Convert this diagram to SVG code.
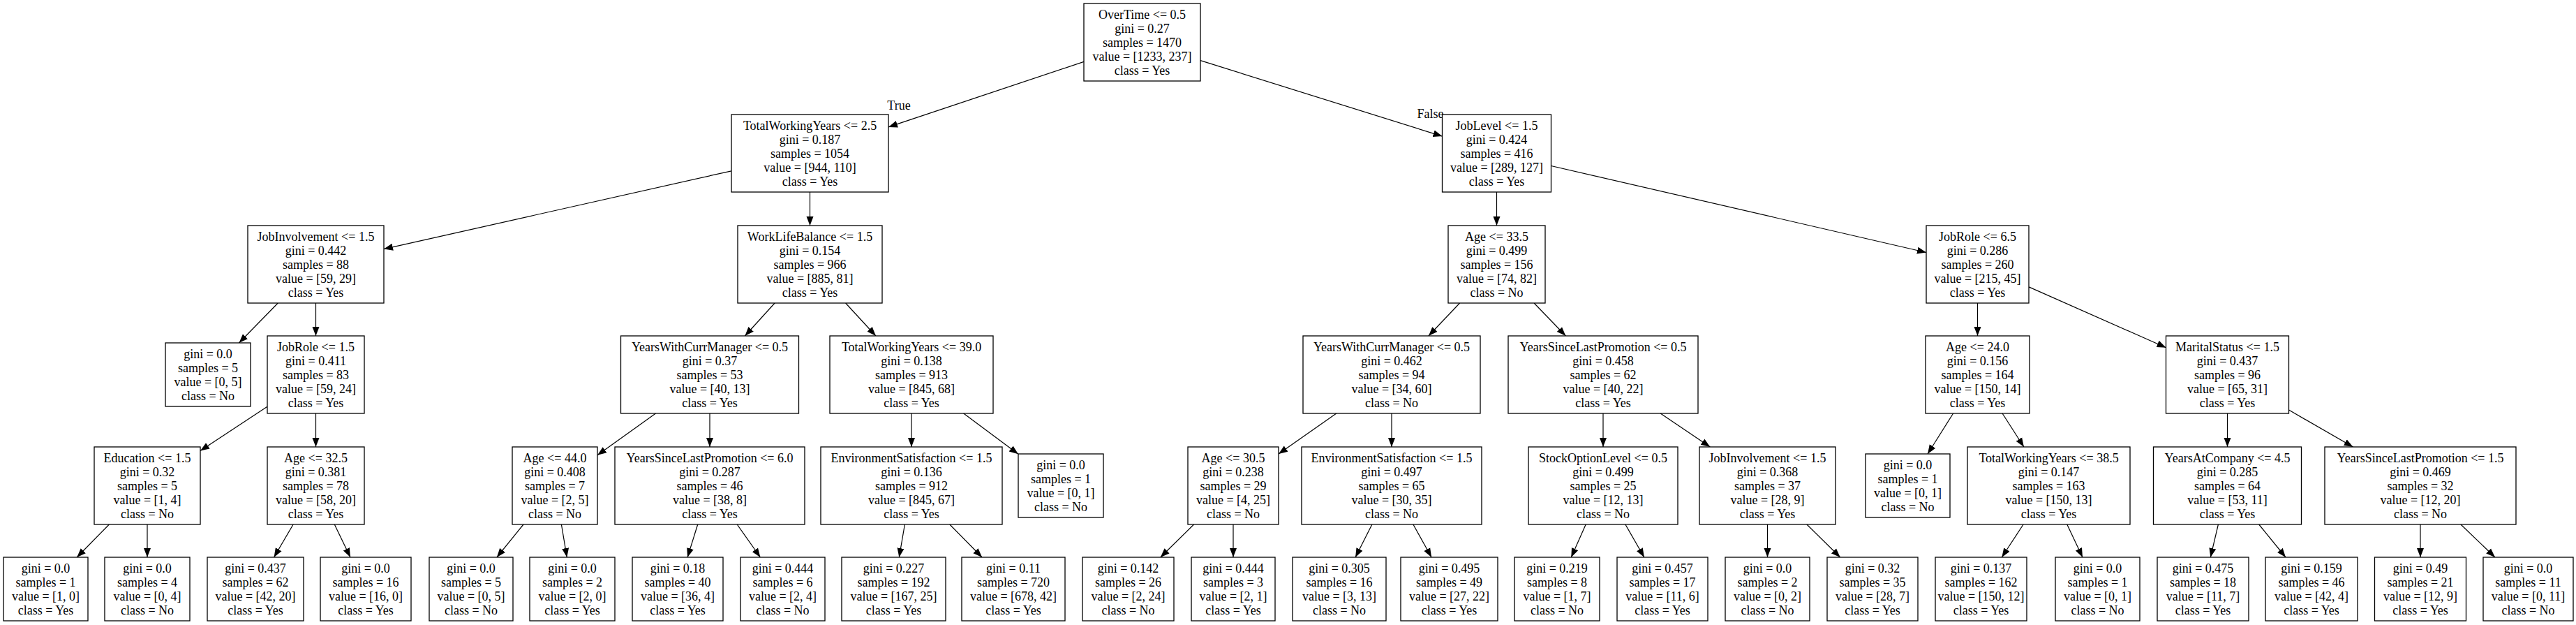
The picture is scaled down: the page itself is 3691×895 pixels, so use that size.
<svg xmlns="http://www.w3.org/2000/svg" width="3691" height="895" viewBox="0 0 3691 895">
<defs>
<marker id="ah" markerUnits="userSpaceOnUse" markerWidth="14" markerHeight="12" refX="13" refY="6" orient="auto">
<path d="M0,1 L13,6 L0,11 z" fill="#000"/>
</marker>
<style>
rect{fill:#fff;stroke:#000;stroke-width:1.3}
text{font-family:"Liberation Serif","Times New Roman",serif;font-size:18px;text-anchor:middle;fill:#000}
#edges line{stroke:#000;stroke-width:1.2;marker-end:url(#ah)}
</style>
</defs>
<rect x="0" y="0" width="3691" height="895" style="fill:#fff;stroke:none"/>
<g id="edges">
<line x1="1553" y1="88.4" x2="1273" y2="181.9"/>
<line x1="1720" y1="86.6" x2="2066.5" y2="195.1"/>
<line x1="1048" y1="244.8" x2="550" y2="356.6"/>
<line x1="1160.5" y1="275" x2="1160.5" y2="323"/>
<line x1="398.2" y1="434" x2="342.5" y2="491"/>
<line x1="452.5" y1="434" x2="452.5" y2="481"/>
<line x1="383" y1="582.3" x2="287" y2="645.5"/>
<line x1="452.5" y1="592" x2="452.5" y2="640"/>
<line x1="156.4" y1="751" x2="110.2" y2="798"/>
<line x1="211" y1="751" x2="211" y2="798"/>
<line x1="420.1" y1="751" x2="392.6" y2="798"/>
<line x1="479.3" y1="751" x2="502" y2="798"/>
<line x1="1110.1" y1="434" x2="1067.4" y2="481"/>
<line x1="1211.6" y1="434" x2="1254.9" y2="481"/>
<line x1="939.5" y1="592" x2="856" y2="651.8"/>
<line x1="1017" y1="592" x2="1017" y2="640"/>
<line x1="750" y1="751" x2="711.9" y2="798"/>
<line x1="804.4" y1="751" x2="812.3" y2="798"/>
<line x1="999.7" y1="751" x2="985.1" y2="798"/>
<line x1="1056.2" y1="751" x2="1089.4" y2="798"/>
<line x1="1306" y1="592" x2="1306" y2="640"/>
<line x1="1380.7" y1="592" x2="1459" y2="650.2"/>
<line x1="1296.4" y1="751" x2="1288.3" y2="798"/>
<line x1="1360.8" y1="751" x2="1407.1" y2="798"/>
<line x1="2144.5" y1="275" x2="2144.5" y2="323"/>
<line x1="2222.5" y1="237.5" x2="2760" y2="361.5"/>
<line x1="2091.6" y1="434" x2="2046.9" y2="481"/>
<line x1="2198.1" y1="434" x2="2243.4" y2="481"/>
<line x1="1914.8" y1="592" x2="1832" y2="650"/>
<line x1="1994" y1="592" x2="1994" y2="640"/>
<line x1="1710.6" y1="751" x2="1662.8" y2="798"/>
<line x1="1767" y1="751" x2="1767" y2="798"/>
<line x1="1965.9" y1="751" x2="1942.1" y2="798"/>
<line x1="2024.9" y1="751" x2="2051.1" y2="798"/>
<line x1="2297" y1="592" x2="2297" y2="640"/>
<line x1="2379.2" y1="592" x2="2450.3" y2="640"/>
<line x1="2272.2" y1="751" x2="2251.3" y2="798"/>
<line x1="2328.9" y1="751" x2="2355.9" y2="798"/>
<line x1="2532.5" y1="751" x2="2532.5" y2="798"/>
<line x1="2588.9" y1="751" x2="2636.7" y2="798"/>
<line x1="2833.5" y1="434" x2="2833.5" y2="481"/>
<line x1="2907" y1="410.9" x2="3103.5" y2="497.7"/>
<line x1="2798.6" y1="592" x2="2762.1" y2="650"/>
<line x1="2869.1" y1="592" x2="2899.9" y2="640"/>
<line x1="2899.1" y1="751" x2="2868.3" y2="798"/>
<line x1="2961.8" y1="751" x2="2984" y2="798"/>
<line x1="3191.5" y1="592" x2="3191.5" y2="640"/>
<line x1="3279.5" y1="587.1" x2="3371.5" y2="640"/>
<line x1="3178.4" y1="751" x2="3167.3" y2="798"/>
<line x1="3236.7" y1="751" x2="3275" y2="798"/>
<line x1="3468" y1="751" x2="3468" y2="798"/>
<line x1="3525.9" y1="751" x2="3575" y2="798"/>
<text x="1288" y="156.5">True</text>
<text x="2049.5" y="169">False</text>
</g>
<g id="n0"><rect x="1553" y="5" width="167" height="111"/><text y="26.5"><tspan x="1636.5">OverTime &lt;= 0.5</tspan><tspan x="1636.5" dy="20">gini = 0.27</tspan><tspan x="1636.5" dy="20">samples = 1470</tspan><tspan x="1636.5" dy="20">value = [1233, 237]</tspan><tspan x="1636.5" dy="20">class = Yes</tspan></text></g>
<g id="n1"><rect x="1048" y="164" width="225" height="111"/><text y="185.5"><tspan x="1160.5">TotalWorkingYears &lt;= 2.5</tspan><tspan x="1160.5" dy="20">gini = 0.187</tspan><tspan x="1160.5" dy="20">samples = 1054</tspan><tspan x="1160.5" dy="20">value = [944, 110]</tspan><tspan x="1160.5" dy="20">class = Yes</tspan></text></g>
<g id="n2"><rect x="355" y="323" width="195" height="111"/><text y="344.5"><tspan x="452.5">JobInvolvement &lt;= 1.5</tspan><tspan x="452.5" dy="20">gini = 0.442</tspan><tspan x="452.5" dy="20">samples = 88</tspan><tspan x="452.5" dy="20">value = [59, 29]</tspan><tspan x="452.5" dy="20">class = Yes</tspan></text></g>
<g id="n3"><rect x="237" y="491" width="122" height="91"/><text y="512.5"><tspan x="298">gini = 0.0</tspan><tspan x="298" dy="20">samples = 5</tspan><tspan x="298" dy="20">value = [0, 5]</tspan><tspan x="298" dy="20">class = No</tspan></text></g>
<g id="n4"><rect x="383" y="481" width="139" height="111"/><text y="502.5"><tspan x="452.5">JobRole &lt;= 1.5</tspan><tspan x="452.5" dy="20">gini = 0.411</tspan><tspan x="452.5" dy="20">samples = 83</tspan><tspan x="452.5" dy="20">value = [59, 24]</tspan><tspan x="452.5" dy="20">class = Yes</tspan></text></g>
<g id="n5"><rect x="135" y="640" width="152" height="111"/><text y="661.5"><tspan x="211">Education &lt;= 1.5</tspan><tspan x="211" dy="20">gini = 0.32</tspan><tspan x="211" dy="20">samples = 5</tspan><tspan x="211" dy="20">value = [1, 4]</tspan><tspan x="211" dy="20">class = No</tspan></text></g>
<g id="n6"><rect x="5" y="798" width="121" height="91"/><text y="819.5"><tspan x="65.5">gini = 0.0</tspan><tspan x="65.5" dy="20">samples = 1</tspan><tspan x="65.5" dy="20">value = [1, 0]</tspan><tspan x="65.5" dy="20">class = Yes</tspan></text></g>
<g id="n7"><rect x="150" y="798" width="122" height="91"/><text y="819.5"><tspan x="211">gini = 0.0</tspan><tspan x="211" dy="20">samples = 4</tspan><tspan x="211" dy="20">value = [0, 4]</tspan><tspan x="211" dy="20">class = No</tspan></text></g>
<g id="n8"><rect x="383" y="640" width="139" height="111"/><text y="661.5"><tspan x="452.5">Age &lt;= 32.5</tspan><tspan x="452.5" dy="20">gini = 0.381</tspan><tspan x="452.5" dy="20">samples = 78</tspan><tspan x="452.5" dy="20">value = [58, 20]</tspan><tspan x="452.5" dy="20">class = Yes</tspan></text></g>
<g id="n9"><rect x="297" y="798" width="138" height="91"/><text y="819.5"><tspan x="366">gini = 0.437</tspan><tspan x="366" dy="20">samples = 62</tspan><tspan x="366" dy="20">value = [42, 20]</tspan><tspan x="366" dy="20">class = Yes</tspan></text></g>
<g id="n10"><rect x="459" y="798" width="130" height="91"/><text y="819.5"><tspan x="524">gini = 0.0</tspan><tspan x="524" dy="20">samples = 16</tspan><tspan x="524" dy="20">value = [16, 0]</tspan><tspan x="524" dy="20">class = Yes</tspan></text></g>
<g id="n11"><rect x="1057" y="323" width="207" height="111"/><text y="344.5"><tspan x="1160.5">WorkLifeBalance &lt;= 1.5</tspan><tspan x="1160.5" dy="20">gini = 0.154</tspan><tspan x="1160.5" dy="20">samples = 966</tspan><tspan x="1160.5" dy="20">value = [885, 81]</tspan><tspan x="1160.5" dy="20">class = Yes</tspan></text></g>
<g id="n12"><rect x="889.5" y="481" width="255" height="111"/><text y="502.5"><tspan x="1017">YearsWithCurrManager &lt;= 0.5</tspan><tspan x="1017" dy="20">gini = 0.37</tspan><tspan x="1017" dy="20">samples = 53</tspan><tspan x="1017" dy="20">value = [40, 13]</tspan><tspan x="1017" dy="20">class = Yes</tspan></text></g>
<g id="n13"><rect x="734" y="640" width="122" height="111"/><text y="661.5"><tspan x="795">Age &lt;= 44.0</tspan><tspan x="795" dy="20">gini = 0.408</tspan><tspan x="795" dy="20">samples = 7</tspan><tspan x="795" dy="20">value = [2, 5]</tspan><tspan x="795" dy="20">class = No</tspan></text></g>
<g id="n14"><rect x="615" y="798" width="120" height="91"/><text y="819.5"><tspan x="675">gini = 0.0</tspan><tspan x="675" dy="20">samples = 5</tspan><tspan x="675" dy="20">value = [0, 5]</tspan><tspan x="675" dy="20">class = No</tspan></text></g>
<g id="n15"><rect x="759" y="798" width="122" height="91"/><text y="819.5"><tspan x="820">gini = 0.0</tspan><tspan x="820" dy="20">samples = 2</tspan><tspan x="820" dy="20">value = [2, 0]</tspan><tspan x="820" dy="20">class = Yes</tspan></text></g>
<g id="n16"><rect x="881" y="640" width="272" height="111"/><text y="661.5"><tspan x="1017">YearsSinceLastPromotion &lt;= 6.0</tspan><tspan x="1017" dy="20">gini = 0.287</tspan><tspan x="1017" dy="20">samples = 46</tspan><tspan x="1017" dy="20">value = [38, 8]</tspan><tspan x="1017" dy="20">class = Yes</tspan></text></g>
<g id="n17"><rect x="906" y="798" width="130" height="91"/><text y="819.5"><tspan x="971">gini = 0.18</tspan><tspan x="971" dy="20">samples = 40</tspan><tspan x="971" dy="20">value = [36, 4]</tspan><tspan x="971" dy="20">class = Yes</tspan></text></g>
<g id="n18"><rect x="1061" y="798" width="121" height="91"/><text y="819.5"><tspan x="1121.5">gini = 0.444</tspan><tspan x="1121.5" dy="20">samples = 6</tspan><tspan x="1121.5" dy="20">value = [2, 4]</tspan><tspan x="1121.5" dy="20">class = No</tspan></text></g>
<g id="n19"><rect x="1189" y="481" width="234" height="111"/><text y="502.5"><tspan x="1306">TotalWorkingYears &lt;= 39.0</tspan><tspan x="1306" dy="20">gini = 0.138</tspan><tspan x="1306" dy="20">samples = 913</tspan><tspan x="1306" dy="20">value = [845, 68]</tspan><tspan x="1306" dy="20">class = Yes</tspan></text></g>
<g id="n20"><rect x="1176" y="640" width="260" height="111"/><text y="661.5"><tspan x="1306">EnvironmentSatisfaction &lt;= 1.5</tspan><tspan x="1306" dy="20">gini = 0.136</tspan><tspan x="1306" dy="20">samples = 912</tspan><tspan x="1306" dy="20">value = [845, 67]</tspan><tspan x="1306" dy="20">class = Yes</tspan></text></g>
<g id="n21"><rect x="1206" y="798" width="149" height="91"/><text y="819.5"><tspan x="1280.5">gini = 0.227</tspan><tspan x="1280.5" dy="20">samples = 192</tspan><tspan x="1280.5" dy="20">value = [167, 25]</tspan><tspan x="1280.5" dy="20">class = Yes</tspan></text></g>
<g id="n22"><rect x="1378" y="798" width="148" height="91"/><text y="819.5"><tspan x="1452">gini = 0.11</tspan><tspan x="1452" dy="20">samples = 720</tspan><tspan x="1452" dy="20">value = [678, 42]</tspan><tspan x="1452" dy="20">class = Yes</tspan></text></g>
<g id="n23"><rect x="1459" y="650" width="122" height="91"/><text y="671.5"><tspan x="1520">gini = 0.0</tspan><tspan x="1520" dy="20">samples = 1</tspan><tspan x="1520" dy="20">value = [0, 1]</tspan><tspan x="1520" dy="20">class = No</tspan></text></g>
<g id="n24"><rect x="2066.5" y="164" width="156" height="111"/><text y="185.5"><tspan x="2144.5">JobLevel &lt;= 1.5</tspan><tspan x="2144.5" dy="20">gini = 0.424</tspan><tspan x="2144.5" dy="20">samples = 416</tspan><tspan x="2144.5" dy="20">value = [289, 127]</tspan><tspan x="2144.5" dy="20">class = Yes</tspan></text></g>
<g id="n25"><rect x="2075" y="323" width="139" height="111"/><text y="344.5"><tspan x="2144.5">Age &lt;= 33.5</tspan><tspan x="2144.5" dy="20">gini = 0.499</tspan><tspan x="2144.5" dy="20">samples = 156</tspan><tspan x="2144.5" dy="20">value = [74, 82]</tspan><tspan x="2144.5" dy="20">class = No</tspan></text></g>
<g id="n26"><rect x="1867" y="481" width="254" height="111"/><text y="502.5"><tspan x="1994">YearsWithCurrManager &lt;= 0.5</tspan><tspan x="1994" dy="20">gini = 0.462</tspan><tspan x="1994" dy="20">samples = 94</tspan><tspan x="1994" dy="20">value = [34, 60]</tspan><tspan x="1994" dy="20">class = No</tspan></text></g>
<g id="n27"><rect x="1702" y="640" width="130" height="111"/><text y="661.5"><tspan x="1767">Age &lt;= 30.5</tspan><tspan x="1767" dy="20">gini = 0.238</tspan><tspan x="1767" dy="20">samples = 29</tspan><tspan x="1767" dy="20">value = [4, 25]</tspan><tspan x="1767" dy="20">class = No</tspan></text></g>
<g id="n28"><rect x="1551" y="798" width="131" height="91"/><text y="819.5"><tspan x="1616.5">gini = 0.142</tspan><tspan x="1616.5" dy="20">samples = 26</tspan><tspan x="1616.5" dy="20">value = [2, 24]</tspan><tspan x="1616.5" dy="20">class = No</tspan></text></g>
<g id="n29"><rect x="1707" y="798" width="120" height="91"/><text y="819.5"><tspan x="1767">gini = 0.444</tspan><tspan x="1767" dy="20">samples = 3</tspan><tspan x="1767" dy="20">value = [2, 1]</tspan><tspan x="1767" dy="20">class = Yes</tspan></text></g>
<g id="n30"><rect x="1865" y="640" width="258" height="111"/><text y="661.5"><tspan x="1994">EnvironmentSatisfaction &lt;= 1.5</tspan><tspan x="1994" dy="20">gini = 0.497</tspan><tspan x="1994" dy="20">samples = 65</tspan><tspan x="1994" dy="20">value = [30, 35]</tspan><tspan x="1994" dy="20">class = No</tspan></text></g>
<g id="n31"><rect x="1852" y="798" width="134" height="91"/><text y="819.5"><tspan x="1919">gini = 0.305</tspan><tspan x="1919" dy="20">samples = 16</tspan><tspan x="1919" dy="20">value = [3, 13]</tspan><tspan x="1919" dy="20">class = No</tspan></text></g>
<g id="n32"><rect x="2007" y="798" width="139" height="91"/><text y="819.5"><tspan x="2076.5">gini = 0.495</tspan><tspan x="2076.5" dy="20">samples = 49</tspan><tspan x="2076.5" dy="20">value = [27, 22]</tspan><tspan x="2076.5" dy="20">class = Yes</tspan></text></g>
<g id="n33"><rect x="2161" y="481" width="272" height="111"/><text y="502.5"><tspan x="2297">YearsSinceLastPromotion &lt;= 0.5</tspan><tspan x="2297" dy="20">gini = 0.458</tspan><tspan x="2297" dy="20">samples = 62</tspan><tspan x="2297" dy="20">value = [40, 22]</tspan><tspan x="2297" dy="20">class = Yes</tspan></text></g>
<g id="n34"><rect x="2190" y="640" width="214" height="111"/><text y="661.5"><tspan x="2297">StockOptionLevel &lt;= 0.5</tspan><tspan x="2297" dy="20">gini = 0.499</tspan><tspan x="2297" dy="20">samples = 25</tspan><tspan x="2297" dy="20">value = [12, 13]</tspan><tspan x="2297" dy="20">class = No</tspan></text></g>
<g id="n35"><rect x="2170" y="798" width="122" height="91"/><text y="819.5"><tspan x="2231">gini = 0.219</tspan><tspan x="2231" dy="20">samples = 8</tspan><tspan x="2231" dy="20">value = [1, 7]</tspan><tspan x="2231" dy="20">class = No</tspan></text></g>
<g id="n36"><rect x="2317" y="798" width="130" height="91"/><text y="819.5"><tspan x="2382">gini = 0.457</tspan><tspan x="2382" dy="20">samples = 17</tspan><tspan x="2382" dy="20">value = [11, 6]</tspan><tspan x="2382" dy="20">class = Yes</tspan></text></g>
<g id="n37"><rect x="2435" y="640" width="195" height="111"/><text y="661.5"><tspan x="2532.5">JobInvolvement &lt;= 1.5</tspan><tspan x="2532.5" dy="20">gini = 0.368</tspan><tspan x="2532.5" dy="20">samples = 37</tspan><tspan x="2532.5" dy="20">value = [28, 9]</tspan><tspan x="2532.5" dy="20">class = Yes</tspan></text></g>
<g id="n38"><rect x="2472" y="798" width="121" height="91"/><text y="819.5"><tspan x="2532.5">gini = 0.0</tspan><tspan x="2532.5" dy="20">samples = 2</tspan><tspan x="2532.5" dy="20">value = [0, 2]</tspan><tspan x="2532.5" dy="20">class = No</tspan></text></g>
<g id="n39"><rect x="2618" y="798" width="130" height="91"/><text y="819.5"><tspan x="2683">gini = 0.32</tspan><tspan x="2683" dy="20">samples = 35</tspan><tspan x="2683" dy="20">value = [28, 7]</tspan><tspan x="2683" dy="20">class = Yes</tspan></text></g>
<g id="n40"><rect x="2760" y="323" width="147" height="111"/><text y="344.5"><tspan x="2833.5">JobRole &lt;= 6.5</tspan><tspan x="2833.5" dy="20">gini = 0.286</tspan><tspan x="2833.5" dy="20">samples = 260</tspan><tspan x="2833.5" dy="20">value = [215, 45]</tspan><tspan x="2833.5" dy="20">class = Yes</tspan></text></g>
<g id="n41"><rect x="2759" y="481" width="149" height="111"/><text y="502.5"><tspan x="2833.5">Age &lt;= 24.0</tspan><tspan x="2833.5" dy="20">gini = 0.156</tspan><tspan x="2833.5" dy="20">samples = 164</tspan><tspan x="2833.5" dy="20">value = [150, 14]</tspan><tspan x="2833.5" dy="20">class = Yes</tspan></text></g>
<g id="n42"><rect x="2673" y="650" width="121" height="91"/><text y="671.5"><tspan x="2733.5">gini = 0.0</tspan><tspan x="2733.5" dy="20">samples = 1</tspan><tspan x="2733.5" dy="20">value = [0, 1]</tspan><tspan x="2733.5" dy="20">class = No</tspan></text></g>
<g id="n43"><rect x="2819" y="640" width="233" height="111"/><text y="661.5"><tspan x="2935.5">TotalWorkingYears &lt;= 38.5</tspan><tspan x="2935.5" dy="20">gini = 0.147</tspan><tspan x="2935.5" dy="20">samples = 163</tspan><tspan x="2935.5" dy="20">value = [150, 13]</tspan><tspan x="2935.5" dy="20">class = Yes</tspan></text></g>
<g id="n44"><rect x="2773" y="798" width="131" height="91"/><text y="819.5"><tspan x="2838.5">gini = 0.137</tspan><tspan x="2838.5" dy="20">samples = 162</tspan><tspan x="2838.5" dy="20">value = [150, 12]</tspan><tspan x="2838.5" dy="20">class = Yes</tspan></text></g>
<g id="n45"><rect x="2945" y="798" width="121" height="91"/><text y="819.5"><tspan x="3005.5">gini = 0.0</tspan><tspan x="3005.5" dy="20">samples = 1</tspan><tspan x="3005.5" dy="20">value = [0, 1]</tspan><tspan x="3005.5" dy="20">class = No</tspan></text></g>
<g id="n46"><rect x="3103.5" y="481" width="176" height="111"/><text y="502.5"><tspan x="3191.5">MaritalStatus &lt;= 1.5</tspan><tspan x="3191.5" dy="20">gini = 0.437</tspan><tspan x="3191.5" dy="20">samples = 96</tspan><tspan x="3191.5" dy="20">value = [65, 31]</tspan><tspan x="3191.5" dy="20">class = Yes</tspan></text></g>
<g id="n47"><rect x="3085.5" y="640" width="212" height="111"/><text y="661.5"><tspan x="3191.5">YearsAtCompany &lt;= 4.5</tspan><tspan x="3191.5" dy="20">gini = 0.285</tspan><tspan x="3191.5" dy="20">samples = 64</tspan><tspan x="3191.5" dy="20">value = [53, 11]</tspan><tspan x="3191.5" dy="20">class = Yes</tspan></text></g>
<g id="n48"><rect x="3091" y="798" width="131" height="91"/><text y="819.5"><tspan x="3156.5">gini = 0.475</tspan><tspan x="3156.5" dy="20">samples = 18</tspan><tspan x="3156.5" dy="20">value = [11, 7]</tspan><tspan x="3156.5" dy="20">class = Yes</tspan></text></g>
<g id="n49"><rect x="3246" y="798" width="132" height="91"/><text y="819.5"><tspan x="3312">gini = 0.159</tspan><tspan x="3312" dy="20">samples = 46</tspan><tspan x="3312" dy="20">value = [42, 4]</tspan><tspan x="3312" dy="20">class = Yes</tspan></text></g>
<g id="n50"><rect x="3331" y="640" width="274" height="111"/><text y="661.5"><tspan x="3468">YearsSinceLastPromotion &lt;= 1.5</tspan><tspan x="3468" dy="20">gini = 0.469</tspan><tspan x="3468" dy="20">samples = 32</tspan><tspan x="3468" dy="20">value = [12, 20]</tspan><tspan x="3468" dy="20">class = No</tspan></text></g>
<g id="n51"><rect x="3402.5" y="798" width="131" height="91"/><text y="819.5"><tspan x="3468">gini = 0.49</tspan><tspan x="3468" dy="20">samples = 21</tspan><tspan x="3468" dy="20">value = [12, 9]</tspan><tspan x="3468" dy="20">class = Yes</tspan></text></g>
<g id="n52"><rect x="3558" y="798" width="129" height="91"/><text y="819.5"><tspan x="3622.5">gini = 0.0</tspan><tspan x="3622.5" dy="20">samples = 11</tspan><tspan x="3622.5" dy="20">value = [0, 11]</tspan><tspan x="3622.5" dy="20">class = No</tspan></text></g>
</svg>
